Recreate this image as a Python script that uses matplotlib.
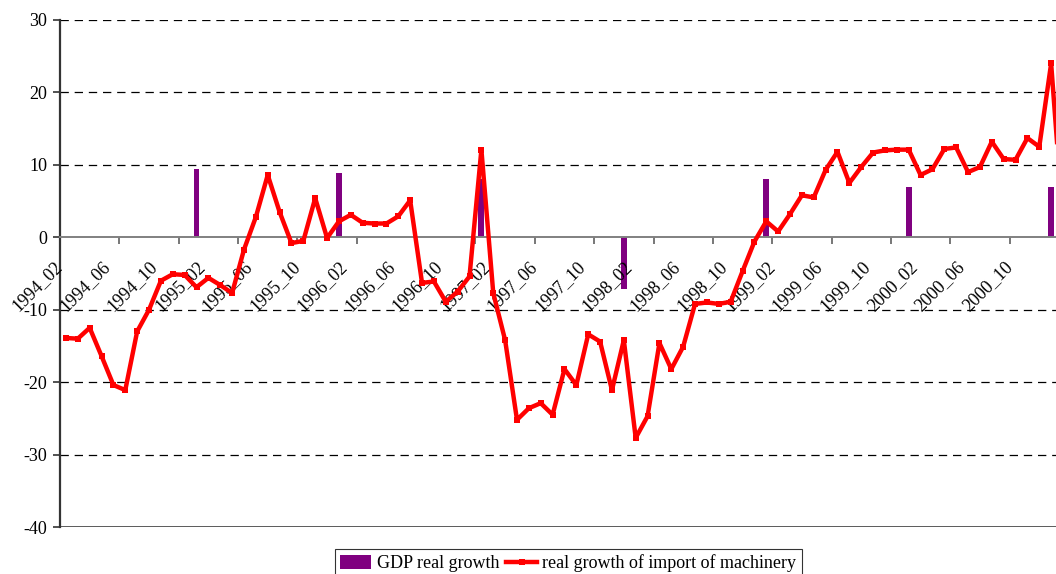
import matplotlib
matplotlib.use('Agg')
import matplotlib.pyplot as plt
import matplotlib.transforms as mtransforms
from matplotlib.lines import Line2D
from matplotlib.patches import Patch
import numpy as np

# ---------------- data ----------------
all_months = [f"{y}_{m:02d}" for y in range(1994, 2002) for m in range(1, 13)]
months = all_months[all_months.index('1994_02'): all_months.index('2001_02') + 1]

machinery = [
    -13.9, -14.0, -12.5, -16.4, -20.4, -21.1, -13.0, -10.0, -6.0, -5.1,
    -5.2, -6.9, -5.6, -6.6, -7.7, -1.7, 2.8, 8.6, 3.5, -0.8,
    -0.5, 5.4, -0.1, 2.2, 3.1, 2.0, 1.9, 1.9, 2.9, 5.1,
    -6.3, -6.1, -8.9, -7.5, -5.4, 12.1, -7.7, -14.2, -25.2, -23.6,
    -22.9, -24.5, -18.2, -20.4, -13.4, -14.4, -21.1, -14.2, -27.7, -24.7,
    -14.6, -18.2, -15.1, -9.2, -9.0, -9.2, -8.9, -4.7, -0.6, 2.2,
    0.8, 3.2, 5.8, 5.5, 9.3, 11.8, 7.5, 9.7, 11.7, 12.0,
    12.1, 12.1, 8.6, 9.4, 12.2, 12.4, 9.0, 9.7, 13.2, 10.8,
    10.7, 13.7, 12.5, 24.0, 2.0,
]

gdp_months = ['1995_01', '1996_01', '1997_01', '1998_01', '1999_01', '2000_01', '2001_01']
gdp_values = [9.4, 8.9, 8.0, -7.1, 8.0, 7.0, 7.0]

tick_labels = ['1994_02', '1994_06', '1994_10', '1995_02', '1995_06', '1995_10',
               '1996_02', '1996_06', '1996_10', '1997_02', '1997_06', '1997_10',
               '1998_02', '1998_06', '1998_10', '1999_02', '1999_06', '1999_10',
               '2000_02', '2000_06', '2000_10']

y_ticks = [-40, -30, -20, -10, 0, 10, 20, 30]

# ---------------- style ----------------
plt.rcParams['font.family'] = ['Liberation Serif', 'DejaVu Serif']
plt.rcParams['lines.scale_dashes'] = False
FS = 13

W, H = 1056, 574
fig = plt.figure(figsize=(W / 100, H / 100), dpi=100)
ax = fig.add_axes([60 / W, 47 / H, 996 / W, 507 / H])

cat_w = 11.87  # pixels per category
x = np.arange(len(months))

# gridlines
for v in y_ticks:
    if v in (0, -40):
        continue
    ax.axhline(v, color='black', lw=0.9, dashes=(6.0, 4.2), zorder=1)
ax.axhline(-40, color='#404040', lw=1.2, zorder=1)

# bars
gdp_idx = [months.index(m) for m in gdp_months]
ax.bar(gdp_idx, gdp_values, width=0.5, color='#800080', zorder=2)

# line
ax.plot(x, machinery, color='#FF0000', lw=3.2, marker='s', ms=4.2,
        markeredgewidth=0, zorder=4)

# spines
for s in ('top', 'right'):
    ax.spines[s].set_visible(False)
ax.spines['left'].set_color('#333333')
ax.spines['left'].set_linewidth(1.6)
ax.spines['bottom'].set_position(('data', 0))
ax.spines['bottom'].set_color('#808080')
ax.spines['bottom'].set_linewidth(1.4)
ax.spines['bottom'].set_zorder(3)

# y ticks
ax.set_yticks(y_ticks)
ax.set_yticklabels([str(v) for v in y_ticks], fontsize=FS)
ax.tick_params(axis='y', direction='out', length=5, width=1.2, color='#333333', pad=4)

# x ticks: marks every 5 categories at boundaries, no auto labels
ax.set_xticks(np.arange(-0.5, len(months), 5))
ax.set_xticklabels([])
ax.tick_params(axis='x', direction='out', length=5, width=1.2, color='#606060')

ax.set_xlim(-0.5, (1056 - 60) / cat_w - 0.5)
ax.set_ylim(-40, 30)

# category labels, rotated
offset = mtransforms.ScaledTranslation(-12 / 100, -21 / 100, fig.dpi_scale_trans)
for lab in tick_labels:
    i = months.index(lab)
    ax.text(i, 0, lab, rotation=45, ha='right', va='top', rotation_mode='anchor',
            fontsize=FS, transform=ax.transData + offset, clip_on=False)

# legend
handles = [Patch(facecolor='#800080', edgecolor='none'),
           Line2D([], [], color='#FF0000', lw=3.2, marker='s', ms=4.2, markeredgewidth=0)]
labels = ['GDP real growth', 'real growth of import of machinery']
leg = fig.legend(handles, labels, loc='upper left', bbox_to_anchor=(335 / W, 1 - 549 / H),
                 ncol=2, fontsize=FS, frameon=True, fancybox=False, shadow=False,
                 borderaxespad=0, borderpad=0.3, handlelength=1.7, handletextpad=0.3,
                 columnspacing=0.4, handleheight=0.8)
leg.get_frame().set_edgecolor('black')
leg.get_frame().set_linewidth(0.8)

fig.savefig('out.png', dpi=100)
